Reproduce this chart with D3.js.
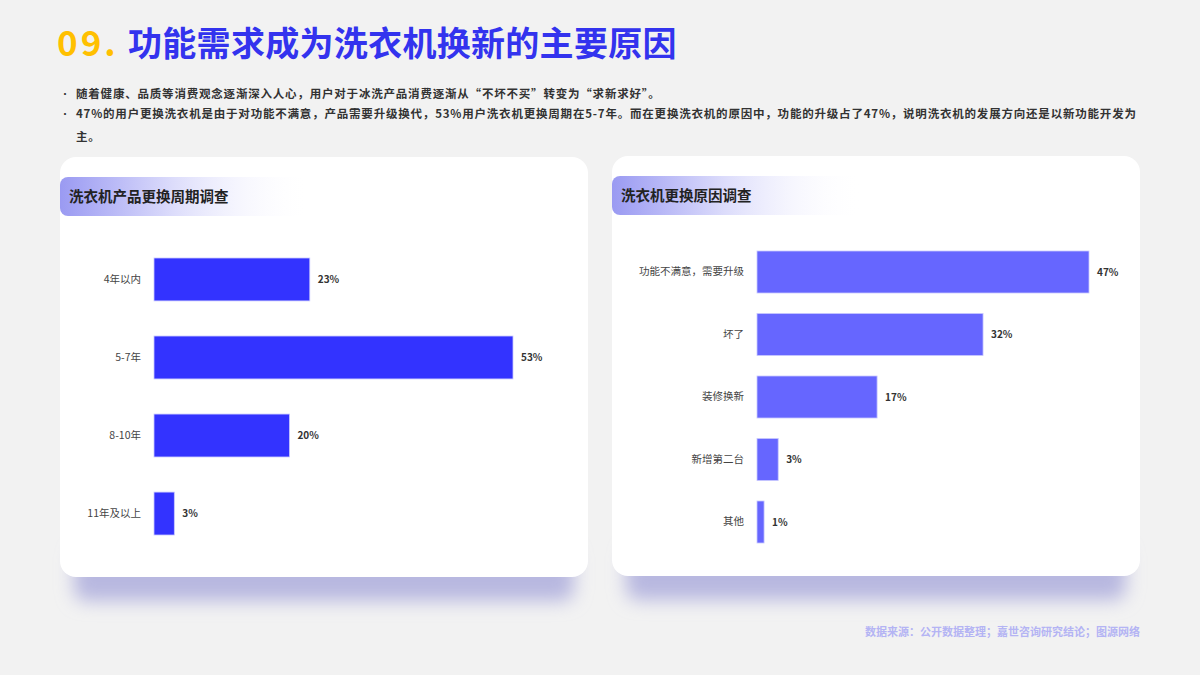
<!DOCTYPE html>
<html>
<head>
<meta charset="utf-8">
<script src="https://cdn.jsdelivr.net/npm/d3@7"></script>
<style>
    body { margin: 0; background: #f2f2f2; }
    svg { display: block; font-family: "Noto Sans CJK SC", "Noto Sans", sans-serif; }
</style>
</head>
<body>
<script>
"use strict";

// data
var cycleLabels = ["4年以内", "5-7年", "8-10年", "11年及以上"];
var cycleValues = [23, 53, 20, 3];
var reasonLabels = ["功能不满意，需要升级", "坏了", "装修换新", "新增第二台", "其他"];
var reasonValues = [47, 32, 17, 3, 1];

var titleNum = "09.";
var titleText = "功能需求成为洗衣机换新的主要原因";
var bullets = [
    ["随着健康、品质等消费观念逐渐深入人心，用户对于冰洗产品消费逐渐从“不坏不买”转变为“求新求好”。"],
    ["47%的用户更换洗衣机是由于对功能不满意，产品需要升级换代，53%用户洗衣机更换周期在5-7年。而在更换洗衣机的原因中，功能的升级占了47%，说明洗衣机的发展方向还是以新功能开发为",
     "主。"]
];
var sourceText = "数据来源：公开数据整理；嘉世咨询研究结论；图源网络";

var widthEcran = 1200, heightEcran = 675;

var svg = d3.select("body").append("svg")
    .attr("width", widthEcran)
    .attr("height", heightEcran);

var defs = svg.append("defs");
defs.append("filter").attr("id", "blur")
    .attr("x", "-20%").attr("y", "-50%").attr("width", "140%").attr("height", "200%")
    .append("feGaussianBlur").attr("stdDeviation", 9);

var grad = defs.append("linearGradient").attr("id", "headGrad")
    .attr("x1", "0%").attr("x2", "100%");
grad.append("stop").attr("offset", "0%").attr("stop-color", "#9a9af2");
grad.append("stop").attr("offset", "45%").attr("stop-color", "#dcdcfb");
grad.append("stop").attr("offset", "100%").attr("stop-color", "#ffffff").attr("stop-opacity", 0);

svg.append("rect").attr("width", widthEcran).attr("height", heightEcran).attr("fill", "#f2f2f2");

// title
svg.append("text")
    .attr("x", 57).attr("y", 56)
    .attr("font-size", 35).attr("font-weight", "bold")
    .attr("letter-spacing", 3)
    .attr("fill", "#ffc000")
    .text(titleNum);
svg.append("text")
    .attr("x", 128).attr("y", 56)
    .attr("font-size", 34).attr("font-weight", "bold")
    .attr("letter-spacing", 0.3)
    .attr("fill", "#3333ee")
    .text(titleText);

// bullets
var lineY = [98, 118, 141];
var li = 0;
bullets.forEach(function (lines) {
    svg.append("text")
        .attr("x", 60).attr("y", lineY[li])
        .attr("font-size", 10).attr("fill", "#333")
        .text("•");
    lines.forEach(function (t) {
        svg.append("text")
            .attr("x", 76).attr("y", lineY[li])
            .attr("font-size", 11.5).attr("font-weight", "bold").attr("fill", "#333")
            .attr("letter-spacing", 0.8)
            .text(t);
        li++;
    });
});

function drawCard(x, y, w, h, heading) {
    svg.append("rect")
        .attr("x", x + 14).attr("y", y + h - 30)
        .attr("width", w - 28).attr("height", 54)
        .attr("rx", 12)
        .attr("fill", "#b8b8e0")
        .attr("filter", "url(#blur)");
    svg.append("rect")
        .attr("x", x).attr("y", y)
        .attr("width", w).attr("height", h)
        .attr("rx", 16)
        .attr("fill", "#ffffff");
    svg.append("rect")
        .attr("x", x).attr("y", y + 20)
        .attr("width", 250).attr("height", 39)
        .attr("rx", 8)
        .attr("fill", "url(#headGrad)");
    svg.append("text")
        .attr("x", x + 9).attr("y", y + 45)
        .attr("font-size", 14.5).attr("font-weight", "bold").attr("fill", "#222")
        .text(heading);
}

function drawBars(labels, values, x0, xLen, yTop, yBot, pad, color) {
    var x = d3.scaleLinear()
        .domain([0, d3.max(values)])
        .range([x0, x0 + xLen]);
    var y = d3.scaleBand()
        .domain(labels)
        .range([yTop, yBot])
        .paddingInner(pad)
        .paddingOuter(0);

    var g = svg.append("g");
    g.selectAll("rect")
        .data(values)
        .enter()
        .append("rect")
        .attr("x", x(0))
        .attr("y", function (d, i) { return y(labels[i]); })
        .attr("width", function (d) { return x(d) - x(0); })
        .attr("height", y.bandwidth())
        .attr("fill", color)
        .attr("stroke", "#c8c8ff")
        .attr("stroke-width", 0.8);

    g.selectAll(".val")
        .data(values)
        .enter()
        .append("text")
        .attr("class", "val")
        .attr("x", function (d) { return x(d) + 8; })
        .attr("y", function (d, i) { return y(labels[i]) + y.bandwidth() / 2; })
        .attr("dy", "0.35em")
        .attr("font-size", 10).attr("font-weight", "bold").attr("fill", "#333")
        .text(function (d) { return d + "%"; });

    var axis = svg.append("g")
        .attr("transform", "translate(" + (x0 - 1) + ",0)")
        .call(d3.axisLeft(y).tickSize(0).tickPadding(12));
    axis.select(".domain").remove();
    axis.selectAll("text")
        .attr("font-size", 10.5)
        .attr("fill", "#444")
        .attr("font-family", "\"Noto Sans CJK SC\", sans-serif");
}

drawCard(60, 157, 528, 420, "洗衣机产品更换周期调查");
drawCard(612, 156, 528, 420, "洗衣机更换原因调查");

drawBars(cycleLabels, cycleValues, 154, 359, 258, 535, 0.45, "#3333ff");
drawBars(reasonLabels, reasonValues, 757, 332, 251, 543, 0.328, "#6666ff");

// source
svg.append("text")
    .attr("x", 1140).attr("y", 636)
    .attr("text-anchor", "end")
    .attr("font-size", 11).attr("font-weight", "bold").attr("fill", "#b4b4f4")
    .text(sourceText);
</script>
</body>
</html>
